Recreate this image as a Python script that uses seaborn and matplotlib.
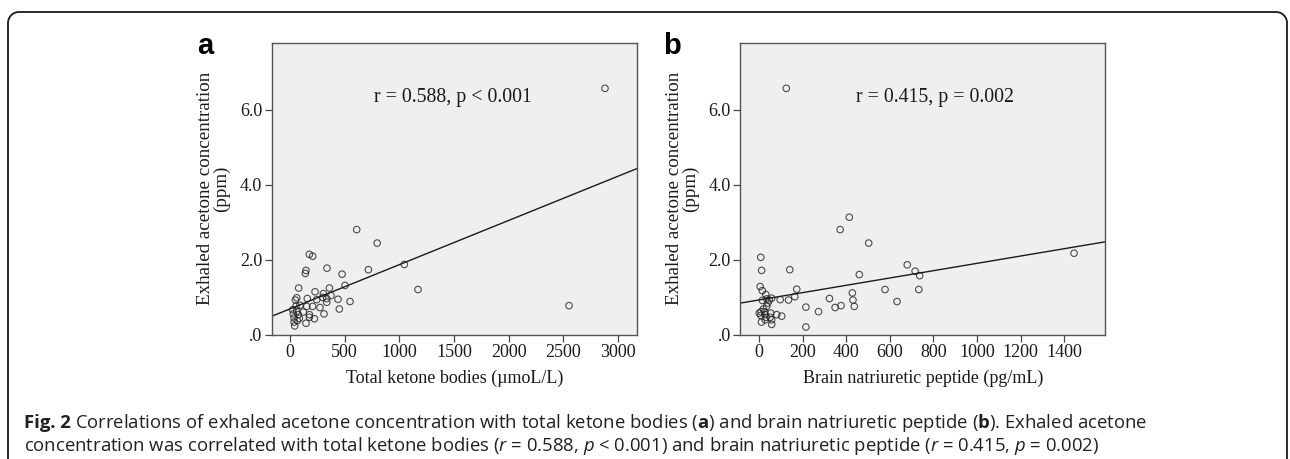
import numpy as np
import pandas as pd
import matplotlib
matplotlib.use("Agg")
import matplotlib.pyplot as plt
import seaborn as sns

# ---------------- data ----------------
tkb = [610, 797, 177, 207, 146, 140, 338, 717, 476, 1046, 503, 1171, 79, 360,
       229, 305, 375, 158, 244, 299, 336, 61, 49, 439, 549, 336, 91, 153, 207,
       274, 55, 451, 61, 30, 76, 122, 177, 311, 177, 223, 37, 67, 146, 43, 85,
       37, 25, 2882, 2553]
acetone_a = [2.80, 2.44, 2.14, 2.09, 1.71, 1.63, 1.77, 1.73, 1.61, 1.87, 1.31,
             1.20, 1.24, 1.24, 1.14, 1.09, 1.04, 0.96, 0.93, 0.99, 0.96, 0.98,
             0.92, 0.94, 0.88, 0.86, 0.78, 0.75, 0.75, 0.72, 0.76, 0.68, 0.62,
             0.55, 0.53, 0.60, 0.53, 0.55, 0.46, 0.42, 0.44, 0.37, 0.30, 0.23,
             0.43, 0.33, 0.66, 6.57, 0.77]

bnp = [414, 372, 503, 8, 12, 141, 460, 680, 716, 737, 578, 733, 633, 428, 431,
       437, 376, 349, 323, 273, 215, 215, 173, 164, 135, 97, 104, 81, 58, 5, 15,
       31, 15, 35, 47, 41, 35, 20, 9, 1, 8, 28, 54, 32, 51, 58, 28, 11, 58, 26,
       125, 1445]
acetone_b = [3.13, 2.80, 2.44, 2.06, 1.71, 1.73, 1.60, 1.86, 1.69, 1.57, 1.20,
             1.20, 0.88, 1.11, 0.92, 0.75, 0.77, 0.72, 0.96, 0.61, 0.73, 0.20,
             1.21, 1.01, 0.92, 0.93, 0.49, 0.53, 0.97, 1.28, 1.17, 1.07, 0.91,
             0.95, 0.92, 0.84, 0.75, 0.68, 0.61, 0.57, 0.51, 0.53, 0.57, 0.46,
             0.46, 0.39, 0.39, 0.33, 0.27, 0.60, 6.57, 2.17]

panel_letters = ["a", "b"]
x_labels = ["Total ketone bodies (\u00b5moL/L)", "Brain natriuretic peptide (pg/mL)"]
y_label = "Exhaled acetone concentration\n(ppm)"
stat_texts = ["r = 0.588, p < 0.001", "r = 0.415, p = 0.002"]
y_ticks = [0, 2, 4, 6]
y_ticklabels = [".0", "2.0", "4.0", "6.0"]
x_ticks_a = [0, 500, 1000, 1500, 2000, 2500, 3000]
x_ticks_b = [0, 200, 400, 600, 800, 1000, 1200, 1400]

df_a = pd.DataFrame({"x": tkb, "y": acetone_a})
df_b = pd.DataFrame({"x": bnp, "y": acetone_b})

# ---------------- style ----------------
sns.set_theme(style="white")
plt.rcParams["font.family"] = ["Liberation Serif", "DejaVu Serif"]
plt.rcParams["mathtext.fontset"] = "custom"
plt.rcParams["mathtext.rm"] = "Open Sans"
plt.rcParams["mathtext.it"] = "Open Sans:italic"
plt.rcParams["mathtext.bf"] = "Open Sans:bold"

W, H = 1290, 459
fig = plt.figure(figsize=(W / 100, H / 100), dpi=100)
fig.patch.set_facecolor("white")

# frame overlay
frame = fig.add_axes([0, 0, 1, 1], zorder=-5)
frame.set_xlim(0, W)
frame.set_ylim(H, 0)
frame.axis("off")
r = 11
t = np.linspace(0, np.pi / 2, 20)
fx = np.concatenate([[8, 8], 8 + r - r * np.cos(t), [1287 - r],
                     1287 - r + r * np.sin(t), [1287]])
fy = np.concatenate([[H + 10, 12 + r], 12 + r - r * np.sin(t), [12],
                     12 + r - r * np.cos(t), [H + 10]])
frame.plot(fx, fy, color="#1a1a1a", lw=1.3, solid_capstyle="butt")

axes_specs = [
    dict(df=df_a, left=272, right=637, xlim=(-165, 3175), xticks=x_ticks_a,
         text_x=1491, letter_x=205),
    dict(df=df_b, left=740.5, right=1105, xlim=(-85, 1587), xticks=x_ticks_b,
         text_x=807, letter_x=672),
]
top_px, bot_px = 43, 334.5

for i, spec in enumerate(axes_specs):
    ax = fig.add_axes([spec["left"] / W, (H - bot_px) / H,
                       (spec["right"] - spec["left"]) / W, (bot_px - top_px) / H])
    ax.set_facecolor("#efefef")
    ax.set_xlim(*spec["xlim"])
    ax.set_ylim(0, 7.78)
    sns.regplot(data=spec["df"], x="x", y="y", ax=ax, ci=None, truncate=False,
                scatter_kws=dict(s=22, facecolors="none", edgecolors="#222222",
                                 linewidths=0.8),
                line_kws=dict(color="#1a1a1a", lw=1.0))
    ax.set_xlim(*spec["xlim"])
    ax.set_xticks(spec["xticks"])
    ax.set_xticklabels([str(v) for v in spec["xticks"]])
    ax.set_yticks(y_ticks)
    ax.set_yticklabels(y_ticklabels)
    ax.tick_params(axis="both", which="both", direction="out", length=5,
                   width=0.9, color="#444444", labelsize=13, pad=2,
                   labelcolor="#1a1a1a", bottom=True, left=True)
    for s in ax.spines.values():
        s.set_color("#555555")
        s.set_linewidth(1.0)
    ax.set_xlabel(x_labels[i], fontsize=13, color="#1a1a1a", labelpad=6)
    ax.set_ylabel(y_label, fontsize=13.7, color="#1a1a1a", labelpad=7,
                  linespacing=0.92)
    ax.text(spec["text_x"], 6.33, stat_texts[i], ha="center", va="center",
            fontsize=14.3, color="#1a1a1a")
    fig.text(spec["letter_x"] / W, 1 - 46 / H, panel_letters[i],
             family=["Liberation Sans", "DejaVu Sans"], fontweight="bold",
             fontsize=21, ha="center", va="center", color="black")

# caption
cap_family = ["Open Sans", "DejaVu Sans"]
cap_size = 13.3
cap_color = "#231f20"
y1 = 1 - 423 / H
y2 = 1 - 446 / H
head = fig.text(24 / W, y1, "Fig. 2", family=cap_family, fontweight="bold",
                fontsize=cap_size, ha="left", va="center", color=cap_color)
renderer = fig.canvas.get_renderer()
hw = head.get_window_extent(renderer=renderer).width
cap1 = (r"Correlations of exhaled acetone concentration with "
        r"total ketone bodies ($\mathbf{a}$) and brain natriuretic peptide "
        r"($\mathbf{b}$). Exhaled acetone")
cap2 = (r"concentration was correlated with total ketone bodies "
        r"($\mathit{r}$ = 0.588, $\mathit{p}$ < 0.001) and brain natriuretic "
        r"peptide ($\mathit{r}$ = 0.415, $\mathit{p}$ = 0.002)")
fig.text((24 + hw + 4.5) / W, y1, cap1, family=cap_family, fontsize=cap_size,
         ha="left", va="center", color=cap_color)
fig.text(24 / W, y2, cap2, family=cap_family, fontsize=cap_size,
         ha="left", va="center", color=cap_color)

fig.savefig("out.png", dpi=100, facecolor="white")
